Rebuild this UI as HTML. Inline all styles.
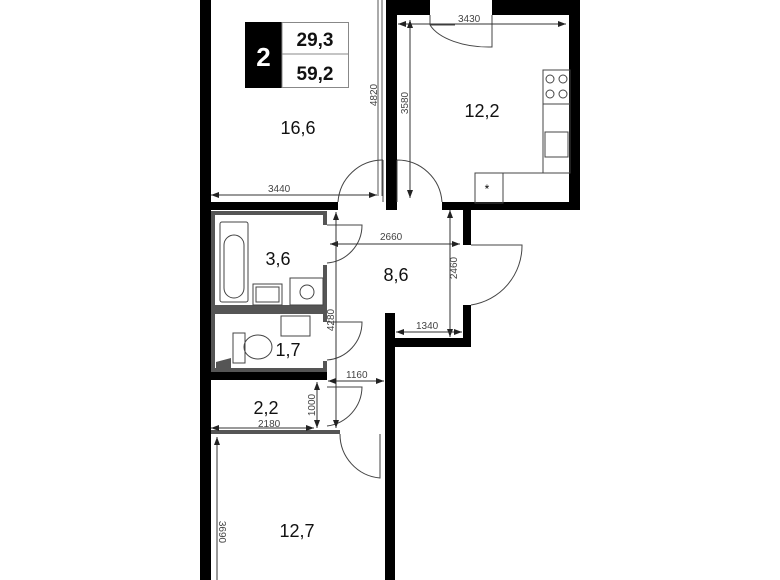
<!DOCTYPE html>
<html><head><meta charset="utf-8"><style>
html,body{margin:0;padding:0;background:#fff;overflow:hidden;}
svg{display:block;}
text{font-family:"Liberation Sans",sans-serif;}
.d{font-size:10px;fill:#444;}
.r{font-size:18px;fill:#111;}
</style></head><body>
<svg width="780" height="580" viewBox="0 0 780 580" xmlns="http://www.w3.org/2000/svg">
<defs><marker id="a" markerWidth="8" markerHeight="6" refX="8" refY="3" orient="auto-start-reverse"><path d="M0,0 L8,3 L0,6z" fill="#222"/></marker></defs>
<g fill="#000">
<rect x="200" y="0" width="11" height="580"/>
<rect x="200" y="202" width="138" height="8"/>
<rect x="386" y="0" width="11" height="210"/>
<rect x="386" y="0" width="44" height="15"/>
<rect x="492" y="0" width="88" height="15"/>
<rect x="569" y="0" width="11" height="210"/>
<rect x="442" y="202" width="138" height="8"/>
<rect x="463" y="210" width="8" height="35"/>
<rect x="463" y="305" width="8" height="42"/>
<rect x="385" y="338" width="86" height="9"/>
<rect x="385" y="313" width="10" height="267"/>
<rect x="200" y="370" width="127" height="10"/>
</g>
<g fill="none" stroke="#555" stroke-width="1">
<line x1="378" y1="0" x2="378" y2="196"/><line x1="382" y1="0" x2="382" y2="196"/>
</g>
<g fill="#555">
<rect x="211" y="211" width="116" height="4"/>
<rect x="211" y="211" width="4" height="161"/>
<rect x="211" y="305" width="116" height="9"/>
<rect x="211" y="368" width="116" height="4"/>
<rect x="323" y="211" width="4" height="14"/>
<rect x="323" y="265" width="4" height="57"/>
<rect x="323" y="361" width="4" height="11"/>
<rect x="211" y="430" width="129" height="4"/>
</g>
<g fill="none" stroke="#444" stroke-width="1">
<path d="M327 225 L362 225 A38 38 0 0 1 327 263"/>
<path d="M327 322 L362 322 A38 38 0 0 1 327 360"/>
<path d="M327 387 L362 387 A40 40 0 0 1 327 426"/>
<path d="M471 245 L522 245 A60 60 0 0 1 471 305"/>
<path d="M340 434 A44 44 0 0 0 380 478 L380 434"/>
<path d="M338 202 A45 45 0 0 1 383 160 M383 160 L383 202"/>
<path d="M442 202 A45 45 0 0 0 397 160 M397 160 L397 202"/>
<path d="M430 15 L430 25 M492 15 L492 47 A62 32 0 0 1 430 25 M430 25 L455 25"/>
<rect x="220" y="222" width="28" height="80" rx="2"/>
<rect x="224" y="235" width="20" height="63" rx="10"/>
<rect x="253" y="284" width="29" height="21"/>
<rect x="256" y="287" width="23" height="15"/>
<rect x="290" y="278" width="33" height="27"/>
<circle cx="307" cy="292" r="7"/>
<rect x="281" y="316" width="29" height="20"/>
<rect x="233" y="333" width="12" height="30"/>
<ellipse cx="258" cy="347" rx="14" ry="12"/>
<rect x="543" y="70" width="27" height="34"/>
<circle cx="550" cy="79" r="4"/><circle cx="563" cy="79" r="4"/>
<circle cx="550" cy="94" r="4"/><circle cx="563" cy="94" r="4"/>
<rect x="543" y="104" width="27" height="69"/>
<rect x="545" y="132" width="23" height="25"/>
<rect x="475" y="173" width="28" height="30"/>
<line x1="503" y1="173" x2="543" y2="173"/>
</g>
<text x="487" y="193" font-size="12" text-anchor="middle">*</text>
<path d="M216 362 L231 358 L231 368 L216 368z" fill="#555"/>
<g stroke="#333" stroke-width="1" fill="none">
<line x1="211" y1="195" x2="377" y2="195" marker-start="url(#a)" marker-end="url(#a)"/>
<line x1="398" y1="24" x2="566" y2="24" marker-start="url(#a)" marker-end="url(#a)"/>
<line x1="410" y1="20" x2="410" y2="198" marker-start="url(#a)" marker-end="url(#a)"/>
<line x1="330" y1="244" x2="460" y2="244" marker-start="url(#a)" marker-end="url(#a)"/>
<line x1="450" y1="210" x2="450" y2="337" marker-start="url(#a)" marker-end="url(#a)"/>
<line x1="396" y1="332" x2="462" y2="332" marker-start="url(#a)" marker-end="url(#a)"/>
<line x1="336" y1="212" x2="336" y2="428" marker-start="url(#a)" marker-end="url(#a)"/>
<line x1="328" y1="381" x2="384" y2="381" marker-start="url(#a)" marker-end="url(#a)"/>
<line x1="317" y1="382" x2="317" y2="428" marker-start="url(#a)" marker-end="url(#a)"/>
<line x1="211" y1="428" x2="314" y2="428" marker-start="url(#a)" marker-end="url(#a)"/>
<line x1="217" y1="437" x2="217" y2="580" marker-start="url(#a)"/>
</g>
<g class="d">
<text x="268" y="192">3440</text>
<text x="458" y="22">3430</text>
<text x="380" y="240">2660</text>
<text x="416" y="329">1340</text>
<text x="346" y="378">1160</text>
<text x="258" y="427">2180</text>
<text transform="translate(377,95) rotate(-90)" text-anchor="middle">4820</text>
<text transform="translate(408,103) rotate(-90)" text-anchor="middle">3580</text>
<text transform="translate(457,268) rotate(-90)" text-anchor="middle">2460</text>
<text transform="translate(334,320) rotate(-90)" text-anchor="middle">4280</text>
<text transform="translate(315,405) rotate(-90)" text-anchor="middle">1000</text>
<text transform="translate(219,532) rotate(90)" text-anchor="middle">3690</text>
</g>
<g class="r" text-anchor="middle">
<text x="298" y="134">16,6</text>
<text x="482" y="117">12,2</text>
<text x="278" y="265">3,6</text>
<text x="396" y="281">8,6</text>
<text x="288" y="356">1,7</text>
<text x="266" y="414">2,2</text>
<text x="297" y="537">12,7</text>
</g>
<rect x="245" y="22" width="37" height="66" fill="#000"/>
<rect x="282" y="22.5" width="66.5" height="65" fill="none" stroke="#888" stroke-width="1"/>
<line x1="282" y1="54" x2="349" y2="54" stroke="#888"/>
<text x="263.5" y="66" font-size="26" font-weight="bold" fill="#fff" text-anchor="middle">2</text>
<text x="315" y="46" font-size="19" font-weight="bold" fill="#111" text-anchor="middle">29,3</text>
<text x="315" y="80" font-size="19" font-weight="bold" fill="#111" text-anchor="middle">59,2</text>
</svg>
</body></html>
